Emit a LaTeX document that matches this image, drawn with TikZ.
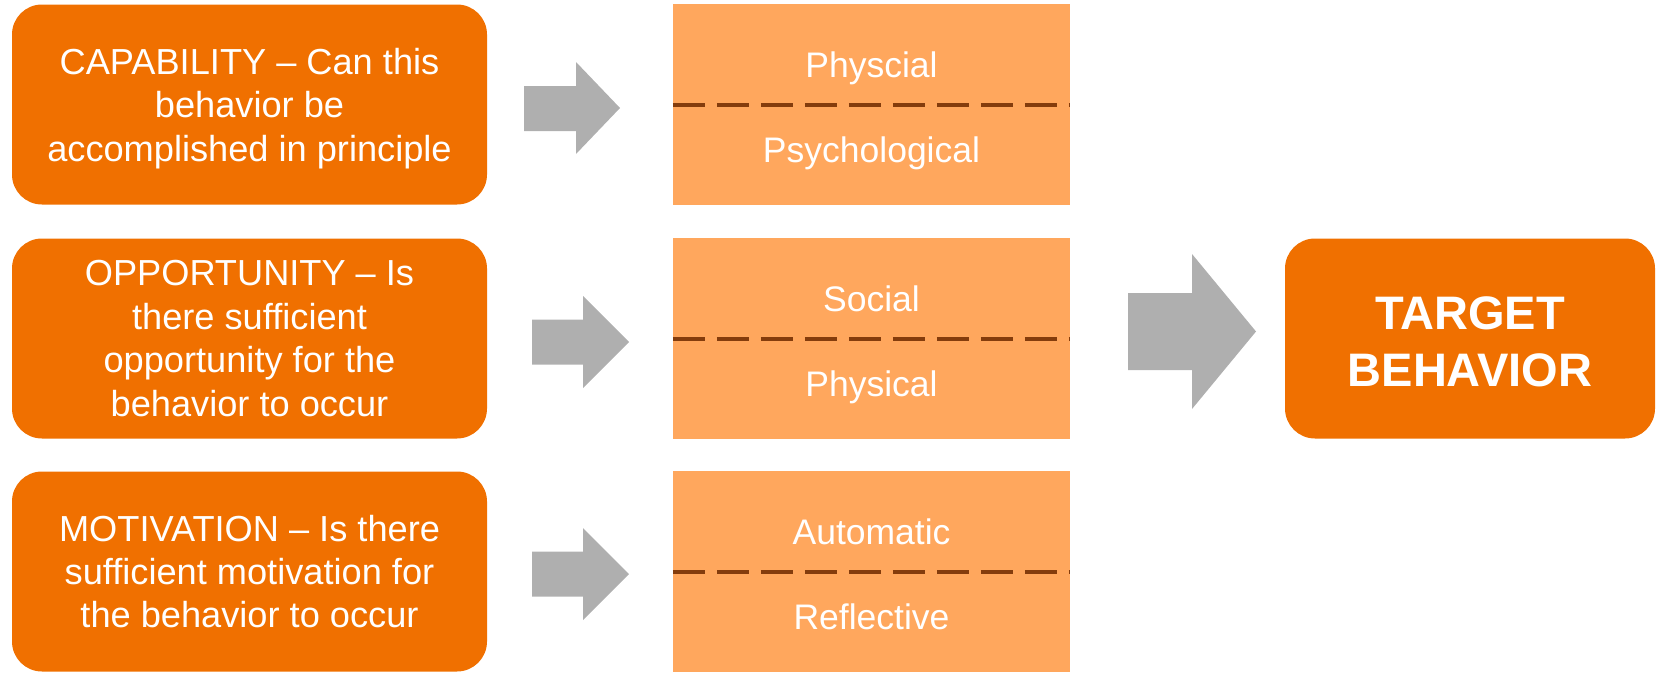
\documentclass[tikz,border=0pt]{standalone}
\usepackage{fontspec}
\setmainfont{Liberation Sans}
\usetikzlibrary{calc}
\definecolor{dorange}{HTML}{F07000}
\definecolor{lorange}{HTML}{FFA75D}
\definecolor{agray}{HTML}{AFAFAF}
\definecolor{dashbrown}{HTML}{843C0C}
\begin{document}
\begin{tikzpicture}[x=1pt,y=-1pt,
  cbox/.style={fill=dorange, rounded corners=30pt, text=white, align=center,
    minimum width=475pt, minimum height=200pt, inner sep=0pt,
    font=\fontsize{36.2}{43.4}\selectfont},
  ctext/.style={align=center, text=white, inner sep=0pt},
  tbox/.style={fill=dorange, rounded corners=30pt,
    minimum width=370pt, minimum height=200pt, inner sep=0pt},
  sbox/.style={fill=lorange, minimum width=397pt, minimum height=201pt, inner sep=0pt},
  stext/.style={text=white, font=\fontsize{35.5}{42.6}\selectfont, inner sep=0pt, anchor=base},
  blockarrow/.style={fill=agray},
  divider/.style={draw=dashbrown, line width=4pt, dash pattern=on 32pt off 12pt}]
\useasboundingbox (0,0) rectangle (1657,672);

% left category boxes
\node[cbox] (cap) at (249.5,104.5) {};
\node[ctext, font=\fontsize{36.2}{43.4}\selectfont] (capt) at ($(cap.center)+(0,4)$) {CAPABILITY -- Can this\\behavior be\\accomplished in principle};
\node[cbox] (opp) at (249.5,338.5) {OPPORTUNITY -- Is\\there sufficient\\opportunity for the\\behavior to occur};
\node[cbox] (mot) at (249.5,571.5) {MOTIVATION -- Is there\\sufficient motivation for\\the behavior to occur};

% middle sub-component boxes
\node[sbox] (m1) at (871.5,104.5) {};
\node[sbox] (m2) at (871.5,338.5) {};
\node[sbox] (m3) at (871.5,571.5) {};
\foreach \m in {m1,m2,m3} {\draw[divider] (\m.west) -- (\m.east);}

\node[stext] (m1a) at ($(m1.center)+(0,-27)$) {Physcial};
\node[stext] (m1b) at ($(m1.center)+(0,58)$) {Psychological};
\node[stext] (m2a) at ($(m2.center)+(0,-27)$) {Social};
\node[stext] (m2b) at ($(m2.center)+(0,58)$) {Physical};
\node[stext] (m3a) at ($(m3.center)+(0,-27)$) {Automatic};
\node[stext] (m3b) at ($(m3.center)+(0,58)$) {Reflective};

% target
\node[tbox] (tgt) at (1470,338.5) {};
\node[ctext, font=\fontsize{47}{57}\selectfont\bfseries] (tgtt) at ($(tgt.center)+(0,3)$) {TARGET\\BEHAVIOR};

% block arrows
\fill[blockarrow] (524,86) -- (576,86) -- (576,62) -- (620,108) -- (576,154) -- (576,131) -- (524,131) -- cycle;
\fill[blockarrow] (532,319.5) -- (583,319.5) -- (583,296) -- (629,342) -- (583,388) -- (583,364.5) -- (532,364.5) -- cycle;
\fill[blockarrow] (532,551.5) -- (583,551.5) -- (583,528) -- (629,574) -- (583,620) -- (583,596.5) -- (532,596.5) -- cycle;
\fill[blockarrow] (1128,293) -- (1192,293) -- (1192,254) -- (1256,331.5) -- (1192,409) -- (1192,370) -- (1128,370) -- cycle;
\end{tikzpicture}
\end{document}
